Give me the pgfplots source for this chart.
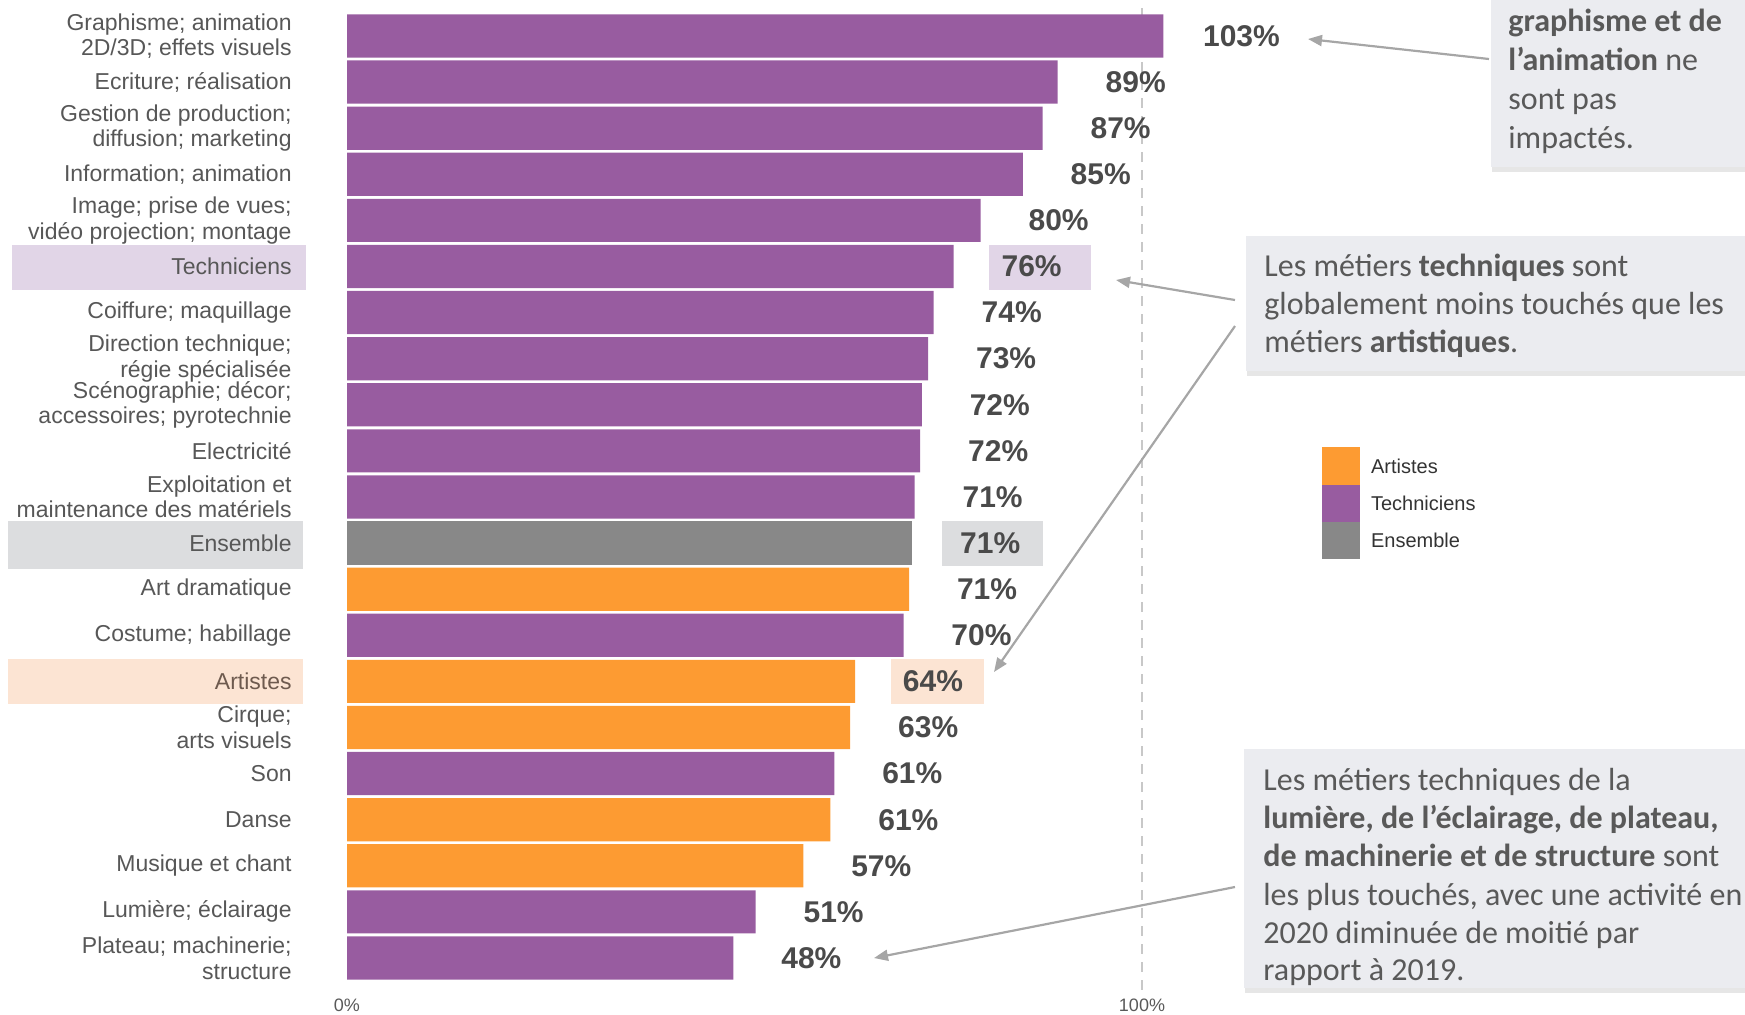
\documentclass[border=0pt]{standalone}
\usepackage{pgfplots}
\pgfplotsset{compat=1.18}
\usepackage{pgfplotstable}
\usepackage{fontspec}
\setmainfont{Liberation Sans}
\newfontfamily\calibri{Carlito}
\usetikzlibrary{arrows.meta,shadows}

\definecolor{cPurple}{HTML}{985CA0}
\definecolor{cOrange}{HTML}{FD9B32}
\definecolor{cGrey}{HTML}{888888}
\definecolor{hlTech}{HTML}{E1D5E7}
\definecolor{hlEns}{HTML}{DCDDDF}
\definecolor{hlArt}{HTML}{FCE4D3}
\definecolor{boxBg}{HTML}{EBECF0}
\definecolor{txtGrey}{HTML}{595959}
\definecolor{labGrey}{HTML}{575757}
\definecolor{valGrey}{HTML}{4A4A4A}
\definecolor{arrGrey}{HTML}{A6A6A6}
\definecolor{dashGrey}{HTML}{C8C8C8}

% y = rank from the top, x = measured bar length, lbl = printed value
\pgfplotstableread{
y x lbl
12 70.7 71
14 63.9 64
15 63.3 63
17 60.8 61
18 57.4 57
}\artistes
\pgfplotstableread{
y x lbl
0 102.7 103
1 89.4 89
2 87.5 87
3 85.0 85
4 79.7 80
5 76.3 76
6 73.8 74
7 73.1 73
8 72.3 72
9 72.1 72
10 71.4 71
13 70.0 70
16 61.3 61
19 51.4 51
20 48.6 48
}\techniciens
\pgfplotstableread{
y x lbl
11 71.1 71
}\ensemble

\begin{document}
\begin{tikzpicture}[x=0.5pt,y=-0.5pt]
\useasboundingbox (0,0) rectangle (1745,1014);

% highlight boxes behind labels
\fill[hlTech] (12,245) rectangle (306,290);
\fill[hlEns]  (8,521) rectangle (303,569);
\fill[hlArt]  (8,659) rectangle (303,704);
\fill[hlTech] (989,245) rectangle (1091,290);
\fill[hlEns]  (942,521) rectangle (1043,566);
\fill[hlArt]  (891,659) rectangle (984,704);

\begin{axis}[
  at={(173.5pt,-490.5pt)}, anchor=south west,
  scale only axis, width=437.25pt, height=484.05pt,
  xmin=0, xmax=110, ymin=-0.5, ymax=20.5, y dir=reverse,
  xbar, bar width=21.6pt, bar shift=0pt,
  clip=false,
  axis line style={draw=none}, major tick length=0pt,
  xtick={0,100}, xticklabels={0\%,100\%},
  xticklabel style={font=\fontsize{9}{10}\selectfont, text=txtGrey, anchor=center, yshift=-12pt},
  ytick={0,...,20},
  yticklabels={{Graphisme; animation\\2D/3D; effets visuels},
    {Ecriture; réalisation},
    {Gestion de production;\\diffusion; marketing},
    {Information; animation},
    {Image; prise de vues;\\vidéo projection; montage},
    {Techniciens},
    {Coiffure; maquillage},
    {Direction technique;\\régie spécialisée},
    {Scénographie; décor;\\accessoires; pyrotechnie},
    {Electricité},
    {Exploitation et\\maintenance des matériels},
    {Ensemble},
    {Art dramatique},
    {Costume; habillage},
    {\color[HTML]{6E5A4E}Artistes},
    {Cirque;\\arts visuels},
    {Son},
    {Danse},
    {Musique et chant},
    {Lumière; éclairage},
    {Plateau; machinerie;\\structure}},
  yticklabel style={font=\fontsize{11.5}{12.8}\selectfont, text=labGrey,
    align=right, anchor=east, inner sep=0pt, xshift=-27.5pt},
  nodes near coords={\pgfplotspointmeta\%},
  point meta=explicit symbolic,
  every node near coord/.append style={anchor=center, xshift=39pt,
    font=\bfseries\fontsize{15}{18}\selectfont, text=valGrey},
  legend style={at={(1.115,0.5516)}, anchor=north west, draw=none, fill=none,
    inner sep=0pt, row sep=0pt, font=\fontsize{10}{12}\selectfont, text=black!80,
    cells={anchor=west}, /tikz/every odd column/.append style={column sep=3.3pt}},
  legend image code/.code={\fill[#1,draw=none] (0pt,-8.5pt) rectangle (19pt,10.1pt);},
]
\draw[dashGrey, line width=0.7pt, dash pattern=on 5pt off 4pt]
  (axis cs:100,-0.6) -- (axis cs:100,20.8);
\addplot[fill=cOrange, draw=none, bar shift=0pt] table[x=x, y=y, meta=lbl] {\artistes};
\addplot[fill=cPurple, draw=none, bar shift=0pt] table[x=x, y=y, meta=lbl] {\techniciens};
\addplot[fill=cGrey, draw=none, bar shift=0pt] table[x=x, y=y, meta=lbl] {\ensemble};
\legend{Artistes,Techniciens,Ensemble}
\end{axis}

% callout boxes
\fill[boxBg, drop shadow={shadow xshift=0.5pt, shadow yshift=-2.5pt, opacity=0.2}]
  (1491,-80) rectangle (1800,167);
\fill[boxBg, drop shadow={shadow xshift=0.5pt, shadow yshift=-2.5pt, opacity=0.2}]
  (1246,236) rectangle (1800,371);
\fill[boxBg, drop shadow={shadow xshift=0.5pt, shadow yshift=-2.5pt, opacity=0.2}]
  (1244,749) rectangle (1800,988);

\begin{scope}[every node/.style={anchor=base west, inner sep=0pt, text=txtGrey,
    font=\calibri\fontsize{16}{19.3}\selectfont}]
\node at (1508,31)  {\textbf{graphisme et de}};
\node at (1508,70)  {\textbf{l’animation} ne};
\node at (1508,109) {sont pas};
\node at (1508,148) {impactés.};
\node at (1264,276) {Les métiers \textbf{techniques} sont};
\node at (1264,314) {globalement moins touchés que les};
\node at (1264,352) {métiers \textbf{artistiques}.};
\node at (1263,790) {Les métiers techniques de la};
\node at (1263,828) {\textbf{lumière, de l’éclairage, de plateau,}};
\node at (1263,866) {\textbf{de machinerie et de structure} sont};
\node at (1263,905) {les plus touchés, avec une activité en};
\node at (1263,943) {2020 diminuée de moitié par};
\node at (1263,980) {rapport à 2019.};
\end{scope}

% arrows
\begin{scope}[arrGrey, line width=1.1pt, -{Triangle[length=7pt,width=5.5pt]}]
\draw (1489,59) -- (1308,39);
\draw (1235,300) -- (1116,280);
\draw (1235,326) -- (994,672);
\draw (1235,887) -- (874,958);
\end{scope}
\end{tikzpicture}
\end{document}
